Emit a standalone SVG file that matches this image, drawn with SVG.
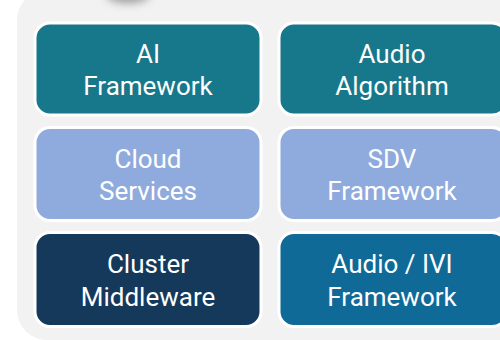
<svg xmlns="http://www.w3.org/2000/svg" width="500" height="340" viewBox="0 0 500 340">
  <defs>
    <filter id="blur" x="-50%" y="-50%" width="200%" height="200%">
      <feGaussianBlur stdDeviation="5"/>
    </filter>
    <style>
      .cell { stroke: #ffffff; stroke-width: 3; }
      .t { font-family: Roboto, "Liberation Sans", sans-serif; font-size: 26px; fill: #ffffff; text-anchor: middle; }
      .teal { fill: #16788A; }
      .light { fill: #8FABDD; }
      .navy { fill: #15395B; }
      .blue { fill: #0F6A98; }
    </style>
  </defs>
  <rect x="0" y="0" width="500" height="340" fill="#ffffff"/>
  <rect id="panel" x="17" y="-10" width="520" height="350" rx="30" ry="30" fill="#F2F2F2"/>
  <ellipse cx="128" cy="-6" rx="22" ry="9" fill="#9a9a9a" filter="url(#blur)"/>

  <g id="ai-framework">
    <rect class="cell teal" x="35" y="23" width="226" height="92" rx="15"/>
    <text class="t" x="148" y="63">AI</text>
    <text class="t" x="148" y="95">Framework</text>
  </g>
  <g id="audio-algorithm">
    <rect class="cell teal" x="279" y="23" width="228" height="92" rx="15"/>
    <text class="t" x="392" y="63">Audio</text>
    <text class="t" x="392" y="95">Algorithm</text>
  </g>
  <g id="cloud-services">
    <rect class="cell light" x="35" y="127.5" width="226" height="93" rx="15"/>
    <text class="t" x="148" y="168">Cloud</text>
    <text class="t" x="148" y="200">Services</text>
  </g>
  <g id="sdv-framework">
    <rect class="cell light" x="279" y="127.5" width="228" height="93" rx="15"/>
    <text class="t" x="392" y="168">SDV</text>
    <text class="t" x="392" y="200">Framework</text>
  </g>
  <g id="cluster-middleware">
    <rect class="cell navy" x="35" y="232.5" width="226" height="94" rx="15"/>
    <text class="t" x="148" y="273">Cluster</text>
    <text class="t" x="148" y="306">Middleware</text>
  </g>
  <g id="audio-ivi-framework">
    <rect class="cell blue" x="279" y="232.5" width="228" height="94" rx="15"/>
    <text class="t" x="392" y="273">Audio / IVI</text>
    <text class="t" x="392" y="306">Framework</text>
  </g>
  <g id="connectors"></g>
</svg>
